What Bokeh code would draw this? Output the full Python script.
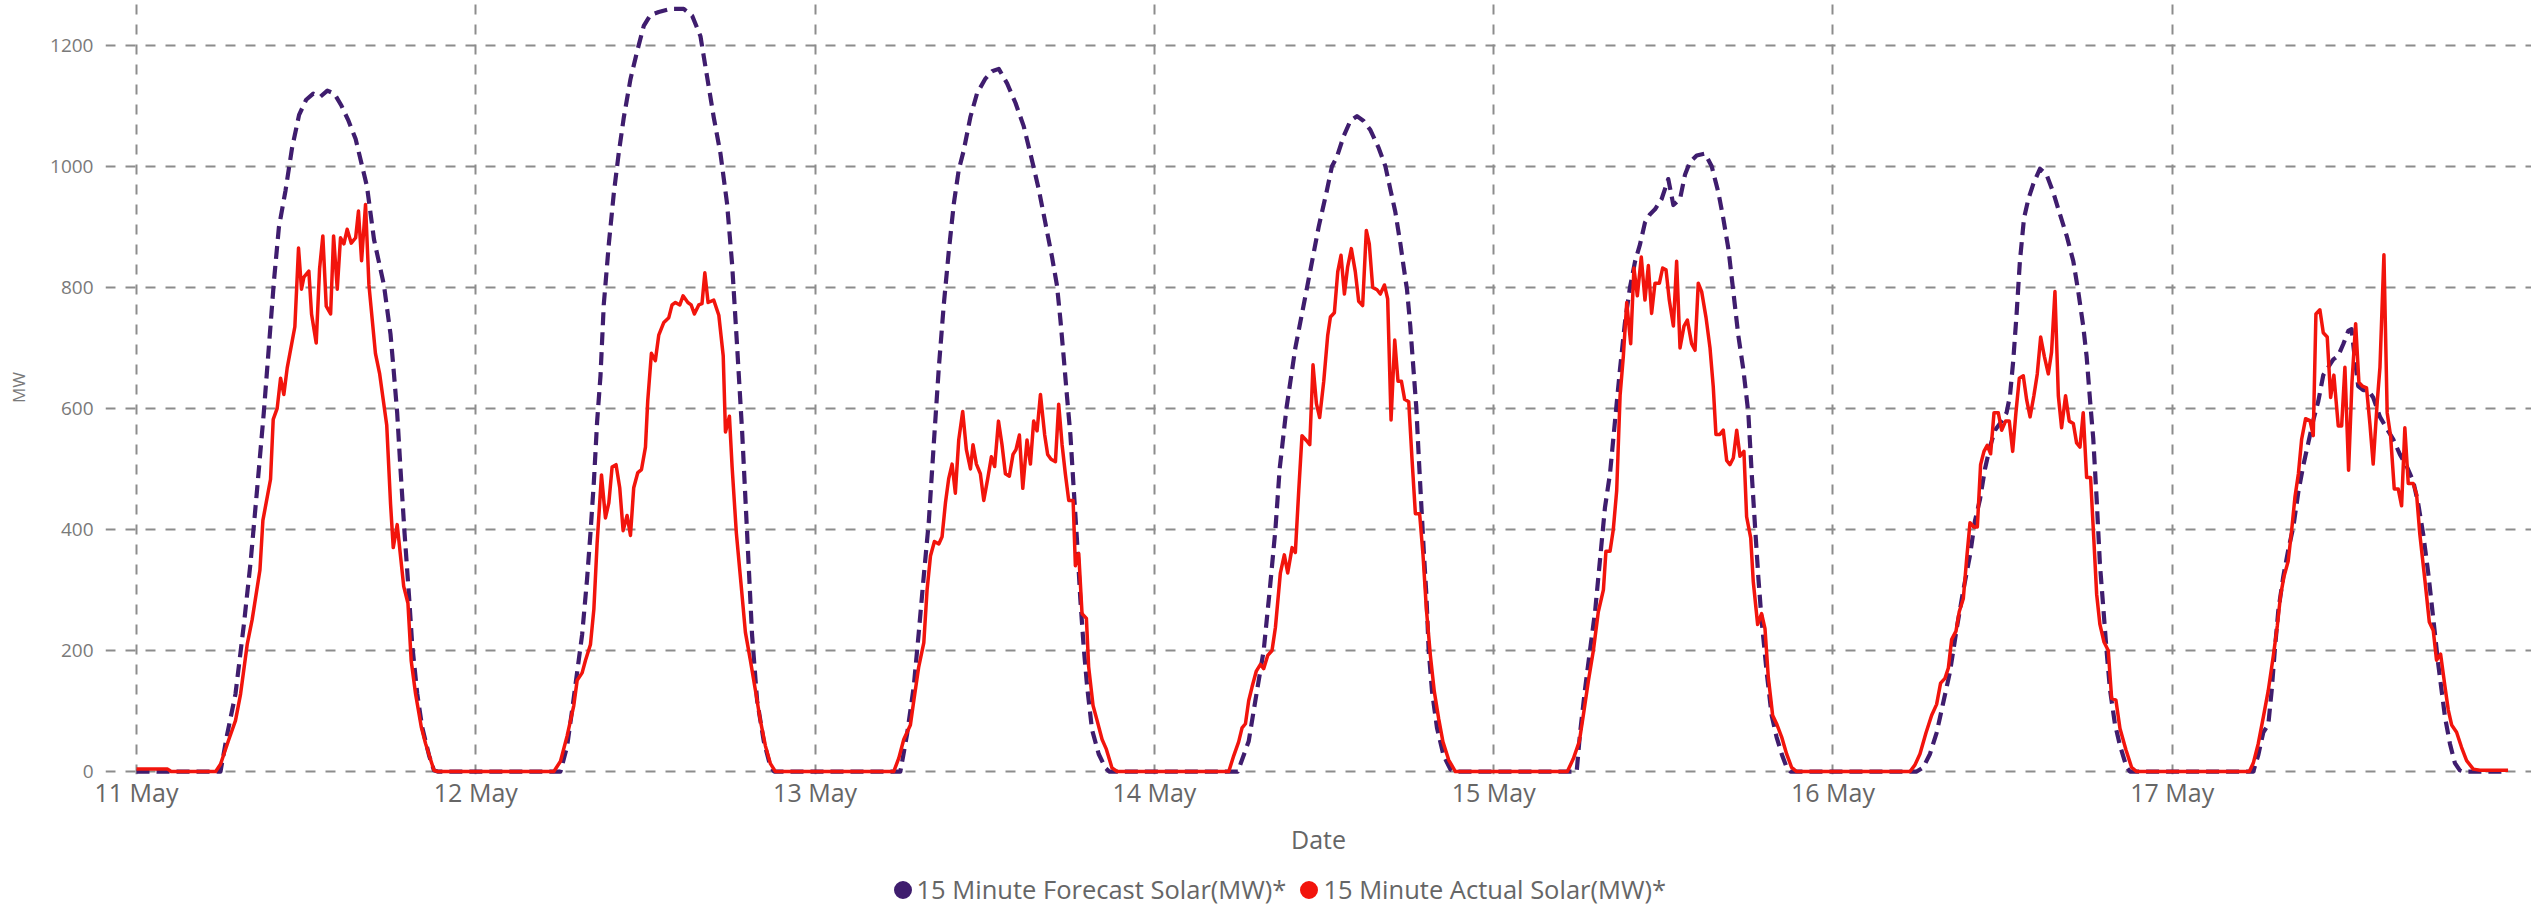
import numpy as np
from bokeh.plotting import figure
from bokeh.layouts import column
from bokeh.models import Range1d, FixedTicker, Legend, LegendItem, ColumnDataSource
from bokeh.embed import file_html
from bokeh.resources import INLINE

# ---------------- data ----------------
DAY_LABELS = ["11 May", "12 May", "13 May", "14 May", "15 May", "16 May", "17 May"]
Y_TICKS = [0, 200, 400, 600, 800, 1000, 1200]
FORECAST_NAME = "15 Minute Forecast Solar(MW)*"
ACTUAL_NAME = "15 Minute Actual Solar(MW)*"

# (hour of day, MW) pairs
forecast_11 = [(0, 0), (5.94, 0), (6.4, 60), (7.0, 128), (7.6, 244), (8.07, 346), (8.54, 469), (9.0, 592),
               (9.36, 701), (9.72, 810), (10.07, 899), (10.54, 960), (11.0, 1030), (11.5, 1085), (12.0, 1110),
               (12.5, 1120), (13.0, 1115), (13.5, 1125), (14.0, 1120), (14.5, 1100), (15.0, 1075), (15.5, 1045),
               (16.3, 967), (16.8, 879), (17.5, 804), (17.97, 722), (18.2, 660), (18.44, 592), (18.68, 497),
               (18.96, 394), (19.27, 292), (19.5, 210), (19.86, 128), (20.2, 74), (20.7, 26), (21.04, 2), (21.3, 0)]
actual_11 = [(0, 4), (2.2, 4), (2.45, 0), (5.6, 0), (5.94, 12), (6.53, 53), (7.0, 84), (7.36, 128), (7.83, 210),
             (8.18, 251), (8.73, 333), (8.94, 415), (9.48, 483), (9.67, 582), (9.95, 600), (10.19, 650),
             (10.42, 623), (10.66, 667), (11.2, 735), (11.46, 865), (11.67, 797), (11.84, 817), (12.19, 827),
             (12.38, 756), (12.71, 708), (12.95, 831), (13.18, 885), (13.42, 769), (13.73, 756), (13.94, 885),
             (14.2, 797), (14.43, 882), (14.67, 872), (14.9, 896), (15.19, 873), (15.5, 882), (15.7, 926),
             (15.92, 844), (16.2, 937), (16.44, 804), (16.9, 691), (17.2, 657), (17.7, 572), (17.97, 442),
             (18.16, 370), (18.44, 408), (18.9, 306), (19.2, 278), (19.43, 183), (19.74, 128), (20.14, 74),
             (20.45, 46), (21.04, 2), (21.3, 0)]

forecast_12 = [(5.99, 0), (6.46, 42), (6.81, 101), (7.28, 184), (7.52, 226), (7.87, 318), (8.11, 394), (8.35, 478),
               (8.58, 578), (8.82, 654), (9.05, 771), (9.41, 872), (9.76, 955), (10.11, 1022), (10.47, 1081),
               (10.94, 1144), (11.41, 1190), (11.88, 1232), (12.35, 1250), (12.94, 1255), (13.77, 1260),
               (14.71, 1260), (15.3, 1249), (15.89, 1215), (16.36, 1148), (16.83, 1081), (17.3, 1022),
               (17.77, 939), (18.13, 838), (18.48, 704), (18.84, 561), (19.19, 394), (19.54, 226), (19.9, 117),
               (20.37, 50), (20.84, 8), (21.1, 0)]
actual_12 = [(5.52, 0), (5.99, 17), (6.46, 59), (6.93, 109), (7.17, 151), (7.52, 163), (7.76, 184), (8.11, 210),
             (8.35, 268), (8.58, 377), (8.89, 490), (9.17, 419), (9.41, 444), (9.64, 503), (9.92, 507),
             (10.18, 469), (10.42, 398), (10.7, 423), (10.94, 390), (11.17, 469), (11.46, 494), (11.72, 499),
             (12.0, 536), (12.16, 612), (12.42, 691), (12.7, 679), (12.94, 721), (13.3, 742), (13.65, 750),
             (13.88, 771), (14.12, 775), (14.43, 771), (14.66, 786), (15.0, 775), (15.23, 771), (15.46, 756),
             (15.77, 771), (16.0, 773), (16.2, 824), (16.43, 775), (16.83, 779), (17.19, 754), (17.5, 687),
             (17.66, 561), (17.94, 587), (18.13, 503), (18.43, 394), (18.76, 310), (19.07, 230), (19.42, 184),
             (19.78, 134), (20.13, 84), (20.49, 42), (20.84, 13), (21.19, 0)]

forecast_13 = [(6.03, 0), (6.5, 61), (6.98, 141), (7.33, 229), (7.69, 324), (8.04, 412), (8.39, 540), (8.75, 667),
               (9.1, 771), (9.45, 858), (9.81, 938), (10.16, 994), (10.51, 1026), (10.99, 1082), (11.46, 1121),
               (12.05, 1145), (12.52, 1157), (12.99, 1161), (13.58, 1137), (14.17, 1105), (14.76, 1066),
               (15.34, 1010), (15.82, 962), (16.29, 906), (16.76, 850), (17.11, 803), (17.35, 747), (17.59, 683),
               (17.82, 619), (18.06, 556), (18.29, 468), (18.53, 380), (18.76, 285), (19.0, 205), (19.24, 141),
               (19.59, 69), (20.06, 29), (20.53, 6), (20.8, 0)]
actual_13 = [(5.56, 0), (5.92, 22), (6.27, 53), (6.74, 77), (6.98, 117), (7.33, 173), (7.69, 213), (7.92, 300),
             (8.16, 356), (8.44, 380), (8.75, 376), (8.98, 388), (9.22, 444), (9.45, 484), (9.69, 508),
             (9.92, 460), (10.16, 548), (10.44, 595), (10.7, 532), (10.99, 500), (11.17, 540), (11.41, 508),
             (11.69, 492), (11.93, 448), (12.21, 484), (12.47, 520), (12.7, 504), (12.97, 579), (13.22, 540),
             (13.46, 492), (13.74, 488), (14.0, 524), (14.21, 532), (14.45, 556), (14.69, 468), (14.99, 548),
             (15.23, 508), (15.46, 579), (15.7, 563), (15.94, 623), (16.24, 556), (16.45, 524), (16.69, 516),
             (17.0, 512), (17.23, 607), (17.47, 540), (17.7, 492), (17.94, 448), (18.25, 448), (18.41, 340),
             (18.65, 360), (18.88, 261), (19.19, 253), (19.35, 173), (19.66, 109), (19.94, 85), (20.3, 53),
             (20.6, 37), (21.0, 6), (21.36, 0)]

forecast_14 = [(5.9, 0), (6.67, 50), (7.02, 100), (7.73, 200), (8.16, 300), (8.56, 400), (8.86, 500), (9.34, 600),
               (9.97, 700), (10.8, 800), (11.62, 900), (12.2, 960), (12.56, 1000), (12.9, 1015), (13.39, 1050),
               (13.86, 1075), (14.33, 1083), (14.8, 1075), (15.28, 1060), (15.87, 1030), (16.34, 1000),
               (16.69, 962), (17.04, 925), (17.4, 872), (17.63, 834), (17.87, 796), (18.1, 736), (18.34, 660),
               (18.53, 600), (18.69, 524), (18.86, 449), (19.05, 366), (19.24, 291), (19.4, 200), (19.64, 132),
               (19.99, 72), (20.46, 26), (20.93, 4), (21.2, 0)]
actual_14 = [(5.26, 0), (5.61, 26), (5.96, 49), (6.2, 72), (6.44, 79), (6.67, 117), (6.91, 140), (7.21, 166),
             (7.5, 177), (7.73, 170), (8.02, 192), (8.32, 200), (8.56, 238), (8.91, 328), (9.19, 358), (9.43, 328),
             (9.74, 370), (9.97, 362), (10.21, 464), (10.44, 555), (10.75, 547), (10.99, 540), (11.22, 672),
             (11.46, 608), (11.69, 585), (11.98, 645), (12.26, 721), (12.45, 751), (12.73, 758), (12.97, 826),
             (13.2, 853), (13.44, 789), (13.67, 834), (13.93, 864), (14.21, 826), (14.45, 777), (14.73, 770),
             (14.99, 894), (15.2, 872), (15.44, 800), (15.75, 796), (15.98, 789), (16.27, 804), (16.5, 781),
             (16.74, 581), (17.0, 713), (17.23, 645), (17.47, 645), (17.7, 615), (17.99, 611), (18.22, 517),
             (18.46, 426), (18.76, 426), (19.0, 358), (19.24, 268), (19.52, 192), (19.8, 132), (20.11, 87),
             (20.41, 49), (20.82, 19), (21.29, 0)]

forecast_15 = [(5.87, 0), (6.11, 64), (6.46, 136), (6.81, 200), (7.17, 264), (7.52, 350), (7.87, 436), (8.23, 493),
               (8.58, 579), (8.93, 664), (9.29, 743), (9.64, 800), (10.0, 843), (10.35, 871), (10.7, 907),
               (11.06, 921), (11.41, 929), (11.88, 946), (12.35, 979), (12.71, 936), (13.18, 946), (13.53, 986),
               (13.88, 1007), (14.36, 1018), (14.95, 1021), (15.42, 1000), (15.89, 957), (16.24, 914), (16.6, 864),
               (16.95, 793), (17.3, 721), (17.66, 664), (18.01, 593), (18.25, 493), (18.48, 407), (18.72, 321),
               (18.95, 250), (19.31, 164), (19.66, 93), (20.01, 57), (20.37, 29), (20.72, 7), (21.0, 0)]
actual_15 = [(5.21, 0), (5.63, 21), (6.06, 50), (6.34, 93), (6.7, 150), (7.05, 200), (7.4, 264), (7.76, 300),
             (7.94, 364), (8.23, 364), (8.46, 400), (8.7, 464), (8.94, 621), (9.17, 686), (9.41, 775), (9.69, 707),
             (9.92, 832), (10.16, 786), (10.44, 850), (10.7, 779), (10.94, 836), (11.17, 757), (11.41, 807),
             (11.72, 807), (11.95, 832), (12.19, 829), (12.42, 779), (12.71, 736), (12.94, 843), (13.18, 700),
             (13.46, 736), (13.7, 746), (14.0, 707), (14.24, 696), (14.47, 807), (14.71, 793), (15.02, 750),
             (15.3, 700), (15.53, 636), (15.72, 557), (16.0, 557), (16.24, 564), (16.48, 514), (16.71, 507),
             (16.95, 518), (17.19, 564), (17.42, 521), (17.7, 529), (17.89, 421), (18.18, 386), (18.36, 314),
             (18.67, 243), (18.95, 261), (19.19, 236), (19.42, 157), (19.73, 93), (20.01, 79), (20.37, 57),
             (20.72, 29), (21.07, 7), (21.43, 0)]

forecast_16 = [(5.92, 0), (6.39, 7), (6.86, 29), (7.33, 64), (7.8, 114), (8.27, 164), (8.75, 236), (9.22, 300),
               (9.69, 357), (10.04, 414), (10.4, 450), (10.75, 500), (11.1, 536), (11.46, 564), (11.93, 579),
               (12.28, 593), (12.52, 621), (12.75, 679), (12.99, 757), (13.22, 843), (13.51, 914), (13.82, 946),
               (14.17, 971), (14.64, 996), (15.11, 986), (15.58, 957), (16.05, 921), (16.52, 886), (17.0, 843),
               (17.35, 793), (17.7, 736), (17.94, 686), (18.18, 614), (18.41, 550), (18.65, 450), (18.88, 343),
               (19.12, 271), (19.35, 200), (19.59, 136), (19.94, 79), (20.3, 43), (20.77, 7), (21.0, 0)]
actual_16 = [(5.45, 0), (5.8, 11), (6.15, 29), (6.58, 64), (6.98, 93), (7.33, 111), (7.61, 146), (7.92, 154),
             (8.16, 171), (8.39, 218), (8.7, 232), (8.93, 264), (9.22, 286), (9.45, 350), (9.69, 411), (9.97, 404),
             (10.21, 404), (10.44, 507), (10.68, 529), (10.91, 539), (11.15, 525), (11.39, 593), (11.69, 593),
             (11.93, 564), (12.21, 579), (12.47, 579), (12.71, 529), (12.94, 593), (13.18, 650), (13.46, 654),
             (13.7, 614), (13.94, 586), (14.21, 621), (14.45, 657), (14.69, 718), (14.95, 686), (15.23, 657),
             (15.46, 693), (15.7, 793), (15.94, 621), (16.17, 568), (16.45, 621), (16.71, 579), (17.0, 575),
             (17.23, 543), (17.47, 536), (17.7, 593), (17.94, 486), (18.22, 486), (18.46, 379), (18.65, 293),
             (18.88, 243), (19.17, 214), (19.47, 200), (19.71, 121), (20.01, 118), (20.3, 71), (20.72, 36),
             (21.12, 7), (21.48, 0)]

forecast_17 = [(5.73, 0), (6.08, 27), (6.44, 65), (6.79, 77), (7.03, 134), (7.26, 203), (7.5, 266), (7.85, 322),
               (8.2, 366), (8.56, 404), (8.91, 461), (9.26, 505), (9.62, 543), (9.97, 580), (10.33, 612),
               (10.68, 655), (11.03, 668), (11.39, 681), (11.74, 687), (12.09, 706), (12.45, 728), (12.68, 731),
               (12.92, 681), (13.15, 637), (13.51, 630), (13.86, 630), (14.21, 618), (14.69, 586), (15.16, 567),
               (15.63, 549), (16.1, 524), (16.57, 505), (17.04, 480), (17.4, 442), (17.75, 392), (18.1, 329),
               (18.46, 253), (18.81, 178), (19.05, 134), (19.29, 90), (19.64, 46), (19.99, 14), (20.34, 2),
               (20.6, 0), (23.75, 0)]
actual_17 = [(5.45, 0), (5.73, 14), (6.08, 46), (6.44, 90), (6.79, 134), (7.14, 190), (7.43, 241), (7.66, 291),
             (7.9, 322), (8.2, 348), (8.44, 398), (8.68, 454), (8.92, 492), (9.15, 549), (9.43, 583), (9.74, 580),
             (9.97, 555), (10.16, 756), (10.44, 763), (10.68, 725), (10.96, 718), (11.2, 618), (11.43, 655),
             (11.74, 571), (11.98, 571), (12.21, 668), (12.47, 498), (12.71, 643), (12.97, 740), (13.2, 643),
             (13.44, 637), (13.74, 634), (13.98, 574), (14.21, 508), (14.5, 612), (14.69, 668), (14.97, 854),
             (15.2, 593), (15.44, 555), (15.7, 467), (15.98, 467), (16.22, 439), (16.45, 568), (16.69, 476),
             (17.04, 476), (17.28, 458), (17.51, 392), (17.87, 316), (18.18, 247), (18.46, 233), (18.69, 184),
             (18.98, 194), (19.29, 140), (19.52, 102), (19.76, 77), (20.11, 65), (20.46, 40), (20.82, 18),
             (21.29, 4), (21.76, 2), (23.75, 2)]

forecast_days = [forecast_11, forecast_12, forecast_13, forecast_14, forecast_15, forecast_16, forecast_17]
actual_days = [actual_11, actual_12, actual_13, actual_14, actual_15, actual_16, actual_17]

# ---------------- styling ----------------
FONT = "Open Sans"
FORECAST_COLOR = "#3f1d6e"
ACTUAL_COLOR = "#f2140c"
GRID_COLOR = "#8c8c8c"
WIDTH = 2531
MAIN_HEIGHT = 858
LEGEND_HEIGHT = 48


def to_series(days):
    xs, ys = [], []
    for i, day in enumerate(days):
        for h, v in day:
            xs.append(i + h / 24.0)
            ys.append(v)
    return xs, ys


fx, fy = to_series(forecast_days)
ax, ay = to_series(actual_days)

p = figure(width=WIDTH, height=MAIN_HEIGHT, output_backend="svg", toolbar_location=None,
           x_range=Range1d(-0.0914, 7.0587), y_range=Range1d(-4.9, 1274),
           min_border_left=105, min_border_right=0, min_border_top=0, min_border_bottom=80)
p.outline_line_color = None
p.background_fill_color = "white"
p.border_fill_color = "white"

p.line(fx, fy, line_color=FORECAST_COLOR, line_width=4.2, line_dash="13 7", line_join="round")
p.line(ax, ay, line_color=ACTUAL_COLOR, line_width=3.5, line_join="round")

# axes
x_ticks = list(range(len(DAY_LABELS)))
p.xaxis.ticker = FixedTicker(ticks=x_ticks)
p.xaxis.major_label_overrides = {i: lab for i, lab in zip(x_ticks, DAY_LABELS)}
p.yaxis.ticker = FixedTicker(ticks=Y_TICKS)
p.xgrid.ticker = FixedTicker(ticks=x_ticks)
p.ygrid.ticker = FixedTicker(ticks=Y_TICKS)

for axis in (p.xaxis, p.yaxis):
    axis.axis_line_color = None
    axis.major_tick_line_color = None
    axis.minor_tick_line_color = None
    axis.major_tick_out = 0
    axis.major_tick_in = 0
    axis.major_label_text_font = FONT
    axis.axis_label_text_font = FONT
    axis.axis_label_text_font_style = "normal"

p.xaxis.axis_label = "Date"
p.xaxis.major_label_text_font_size = "25px"
p.xaxis.major_label_text_color = "#666666"
p.xaxis.axis_label_text_font_size = "25px"
p.xaxis.axis_label_text_color = "#666666"
p.xaxis.major_label_standoff = 0
p.xaxis.axis_label_standoff = 10

p.yaxis.axis_label = "MW"
p.yaxis.major_label_text_font_size = "19px"
p.yaxis.major_label_text_color = "#7a7a7a"
p.yaxis.axis_label_text_font_size = "17px"
p.yaxis.axis_label_text_color = "#7a7a7a"
p.yaxis.major_label_standoff = 12
p.yaxis.axis_label_standoff = 17

for grid in (p.xgrid, p.ygrid):
    grid.grid_line_color = GRID_COLOR
    grid.grid_line_width = 2
    grid.grid_line_dash = "10 10"

# ---------------- legend strip ----------------
lg = figure(width=WIDTH, height=LEGEND_HEIGHT, output_backend="svg", toolbar_location=None,
            x_range=Range1d(0, 1), y_range=Range1d(0, 1),
            x_axis_location=None, y_axis_location=None,
            min_border_left=0, min_border_right=0, min_border_top=0, min_border_bottom=0)
lg.outline_line_color = None
lg.grid.visible = False
lg.border_fill_color = "white"
lg.background_fill_color = "white"

# placeholder (NaN) sources: legend swatches only, nothing is drawn in the strip itself
swatch = ColumnDataSource(dict(x=np.array([np.nan]), y=np.array([np.nan])))
dot_f = lg.scatter(x="x", y="y", source=swatch, marker="circle", size=10, line_width=8,
                   fill_color=FORECAST_COLOR, line_color=FORECAST_COLOR)
dot_a = lg.scatter(x="x", y="y", source=swatch, marker="circle", size=10, line_width=8,
                   fill_color=ACTUAL_COLOR, line_color=ACTUAL_COLOR)
legend = Legend(items=[LegendItem(label=FORECAST_NAME, renderers=[dot_f]),
                       LegendItem(label=ACTUAL_NAME, renderers=[dot_a])],
                orientation="horizontal", location=(784.5, 0),
                glyph_width=25, glyph_height=25, label_standoff=2, spacing=10,
                padding=0, margin=0, border_line_color=None, background_fill_alpha=0,
                label_text_font=FONT, label_text_font_size="25.5px", label_text_color="#666666")
lg.add_layout(legend)

layout = column(p, lg, spacing=0)
open("out.html", "w").write(file_html(layout, INLINE))
